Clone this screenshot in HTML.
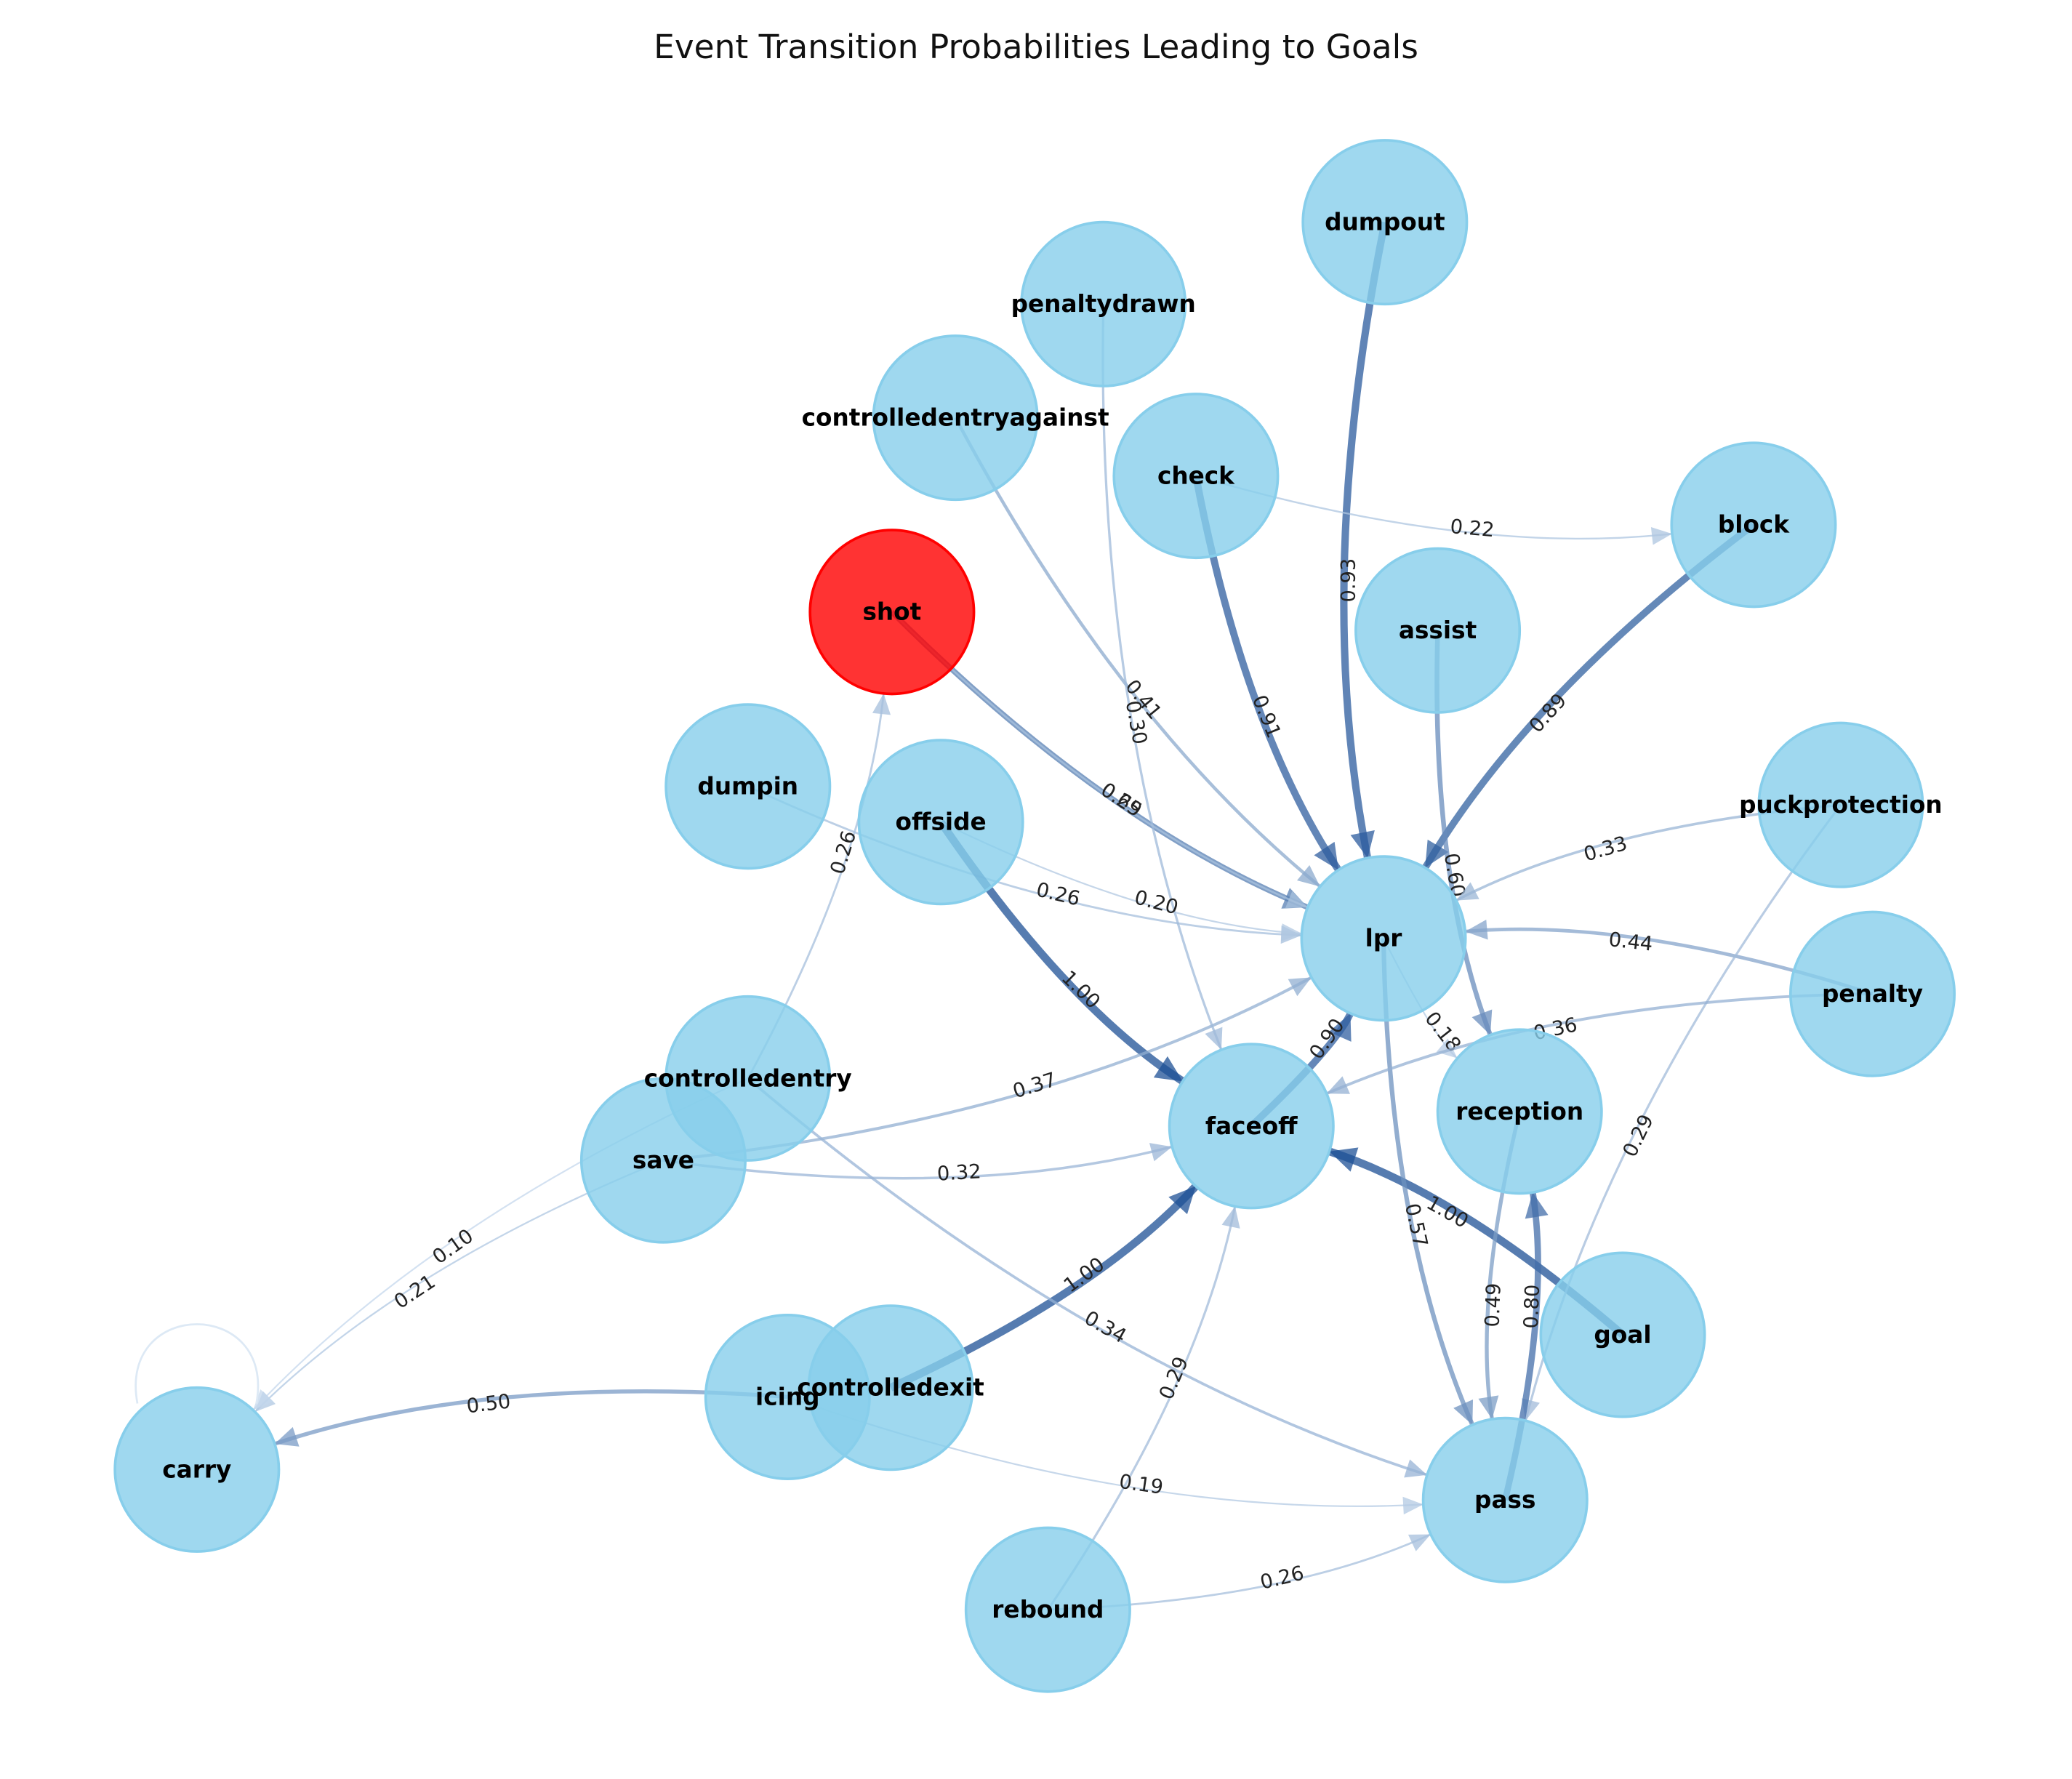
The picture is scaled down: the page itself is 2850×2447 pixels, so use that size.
<!DOCTYPE html>
<html><head><meta charset="utf-8"><style>
html,body{margin:0;padding:0;background:#fff;}
svg{display:block;font-family:"DejaVu Sans","Liberation Sans",sans-serif;}
</style></head><body>
<svg id="chart" width="2850" height="2447" viewBox="0 0 1568 1346" xmlns="http://www.w3.org/2000/svg">
<text x="784" y="44" text-anchor="middle" font-size="25" fill="#111">Event Transition Probabilities Leading to Goals</text>
<g id="edges"></g>
<g id="nodes"></g>
</svg>
<script>
const nodeNames = ["dumpout","penaltydrawn","controlledentryagainst","check","block","shot","assist","dumpin","offside","puckprotection","lpr","penalty","reception","faceoff","controlledentry","save","goal","icing","controlledexit","carry","pass","rebound"];
const nodeX = [1048,835,723,905,1327,675,1088,566,712,1393,1047,1417,1150,947,566,502,1228,596,674,149,1139,793];
const nodeY = [168,230,316,360,397,463,477,595,622,609,710,752,841,852,816,878,1010,1057,1050,1112,1135,1218];
const edgeSource = ["shot","dumpin","offside","controlledexit","goal","check","block","faceoff","dumpout","assist","lpr","reception","penalty","puckprotection","save","save","icing","controlledentry","rebound","puckprotection","rebound","save","controlledentryagainst","penaltydrawn","shot","check","icing","lpr","penalty","controlledentry","offside","pass","controlledentry"];
const edgeTarget = ["lpr","lpr","faceoff","faceoff","faceoff","lpr","lpr","lpr","lpr","reception","pass","pass","lpr","lpr","lpr","faceoff","carry","pass","faceoff","pass","pass","carry","lpr","faceoff","lpr","block","pass","reception","faceoff","shot","lpr","reception","carry"];
const edgeWeight = [0.69,0.26,1.00,1.00,1.00,0.91,0.89,0.90,0.93,0.60,0.57,0.49,0.44,0.33,0.37,0.32,0.50,0.34,0.29,0.29,0.26,0.21,0.41,0.30,0.25,0.22,0.19,0.18,0.36,0.26,0.20,0.80,0.10];

const NS="http://www.w3.org/2000/svg";
const R=62;
function idx(n){return nodeNames.indexOf(n);}
function color(w){
  const a=[214,230,245], b=[30,80,150];
  const t=Math.min(1,Math.max(0,w));
  return "rgb("+a.map((v,i)=>Math.round(v+(b[i]-v)*t)).join(",")+")";
}
const eg=document.getElementById("edges");
for(let i=0;i<edgeSource.length;i++){
  const s=idx(edgeSource[i]), t=idx(edgeTarget[i]);
  const x1=nodeX[s],y1=nodeY[s],x2=nodeX[t],y2=nodeY[t];
  const dx=x2-x1,dy=y2-y1;
  const cx=(x1+x2)/2-0.1*dy, cy=(y1+y2)/2+0.1*dx;
  let ex=x2-cx, ey=y2-cy; let el=Math.hypot(ex,ey);
  const tx=x2-ex/el*R, ty=y2-ey/el*R;
  const w=edgeWeight[i], col=color(w), sw=Math.max(1.2,w*6);
  const p=document.createElementNS(NS,"path");
  p.setAttribute("d",`M${x1},${y1} Q${cx},${cy} ${tx},${ty}`);
  p.setAttribute("fill","none");p.setAttribute("stroke",col);
  p.setAttribute("stroke-width",sw);p.setAttribute("stroke-opacity",0.75);
  
  
  eg.appendChild(p);
  const ux=ex/el, uy=ey/el, L=14+sw, Wd=6+sw*0.6;
  const bx=tx-ux*L, by=ty-uy*L;
  const ah=document.createElementNS(NS,"polygon");
  ah.setAttribute("points",`${tx},${ty} ${bx-uy*Wd},${by+ux*Wd} ${bx+uy*Wd},${by-ux*Wd}`);
  ah.setAttribute("fill",col);ah.setAttribute("fill-opacity",0.75);
  
  
  eg.appendChild(ah);
  const mx=0.25*x1+0.5*cx+0.25*x2, my=0.25*y1+0.5*cy+0.25*y2;
  let ang=Math.atan2(dy,dx)*180/Math.PI; if(ang>90)ang-=180; if(ang<-90)ang+=180;
  const lb=document.createElementNS(NS,"text");
  lb.setAttribute("x",mx);lb.setAttribute("y",my+5);
  lb.setAttribute("text-anchor","middle");lb.setAttribute("font-size","15");
  lb.setAttribute("fill","#222");
  lb.setAttribute("transform",`rotate(${ang} ${mx} ${my})`);
  lb.textContent=w.toFixed(2);
  
  
  eg.appendChild(lb);
}
const ci=idx("carry");
const loop=document.createElementNS(NS,"path");
loop.setAttribute("d",`M${nodeX[ci]-45},${nodeY[ci]-50} C${nodeX[ci]-60},${nodeY[ci]-130} ${nodeX[ci]+60},${nodeY[ci]-130} ${nodeX[ci]+45},${nodeY[ci]-50}`);
loop.setAttribute("fill","none");loop.setAttribute("stroke","#dde9f5");loop.setAttribute("stroke-width","1.5");


eg.appendChild(loop);

const ng=document.getElementById("nodes");
for(let i=0;i<nodeNames.length;i++){
  const c=document.createElementNS(NS,"circle");
  c.setAttribute("cx",nodeX[i]);c.setAttribute("cy",nodeY[i]);c.setAttribute("r",R);
  const red=nodeNames[i]==="shot";
  c.setAttribute("fill",red?"#ff0000":"#87ceeb");c.setAttribute("fill-opacity",0.8);
  c.setAttribute("stroke",red?"#ff0000":"#87ceeb");c.setAttribute("stroke-width","2");
  
  
  ng.appendChild(c);
}
for(let i=0;i<nodeNames.length;i++){
  const t=document.createElementNS(NS,"text");
  t.setAttribute("x",nodeX[i]);t.setAttribute("y",nodeY[i]+6);
  t.setAttribute("text-anchor","middle");t.setAttribute("font-size","18");t.setAttribute("font-weight","bold");
  t.setAttribute("fill","#000");
  t.textContent=nodeNames[i];
  
  
  ng.appendChild(t);
}
</script>
</body></html>
